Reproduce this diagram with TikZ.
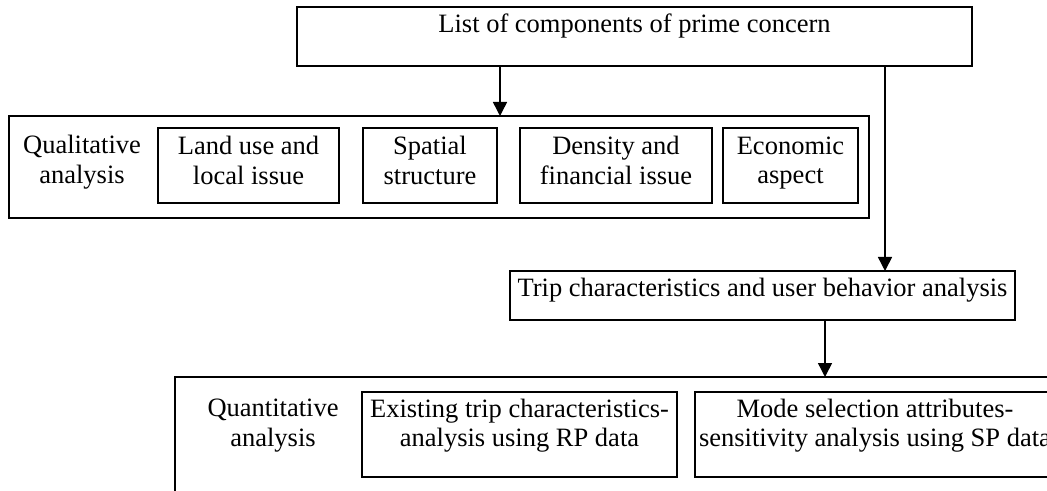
\documentclass[tikz,border=0pt]{standalone}
\usepackage{fontspec}
\setmainfont{Liberation Serif}
\usetikzlibrary{arrows.meta}
\begin{document}
\begin{tikzpicture}[x=0.5pt,y=-0.5pt,
  box/.style 2 args={draw, line width=1.1pt, inner sep=0pt, outer sep=0pt, anchor=north west,
    minimum width=#1*0.5pt, minimum height=#2*0.5pt},
  txt/.style={inner sep=0pt, outer sep=0pt, align=center, font=\fontsize{13.25}{14.75}\selectfont},
  txt2/.style={txt, execute at begin node=\strut, execute at end node=\strut},
  arr/.style={-{Triangle[length=7pt,width=7pt]}, line width=0.75pt}]
\clip (0,0) rectangle (1047,491);
\fill[white] (0,0) rectangle (1047,491);
% boxes
\node[box={675}{59}] (list) at (297,7) {};
\node[box={860}{102}] (qual) at (9,116) {};
\node[box={181}{75}] (land) at (158,128) {};
\node[box={134}{75}] (spatial) at (363,128) {};
\node[box={192}{75}] (density) at (520,128) {};
\node[box={135}{75}] (econ) at (723,128) {};
\node[box={505}{49}] (trip) at (510,271) {};
\node[box={925}{200}] (quant) at (175,377) {};
\node[box={315}{85}] (rp) at (362,392) {};
\node[box={360}{85}] (sp) at (695,392) {};
% texts
\node[txt,anchor=base] (listt) at (634.5,33) {List of components of prime concern};
\node[txt2] (qualt) at (82,163.5) {Qualitative\\analysis};
\node[txt2] (landt) at (248.5,164.5) {Land use and\\local issue};
\node[txt2] (spatialt) at (430,164.5) {Spatial\\structure};
\node[txt2] (densityt) at (616,164.5) {Density and\\financial issue};
\node[txt2] (econt) at (790.5,164.5) {Economic\\aspect};
\node[txt,anchor=base] (tript) at (762.5,297) {Trip characteristics and user behavior analysis};
\node[txt2] (quantt) at (273,427) {Quantitative\\analysis};
\node[txt2] (rpt) at (519.5,427) {Existing trip characteristics-\\analysis using RP data};
\node[txt2] (spt) at (875,427) {Mode selection attributes-\\sensitivity analysis using SP data};
% connectors
\coordinate (a1) at (500,0);
\coordinate (a2) at (885,0);
\coordinate (a3) at (825,0);
\draw[arr] (list.south -| a1) -- (qual.north -| a1);
\draw[arr] (list.south -| a2) -- (trip.north -| a2);
\draw[arr] (trip.south -| a3) -- (quant.north -| a3);
\end{tikzpicture}
\end{document}
